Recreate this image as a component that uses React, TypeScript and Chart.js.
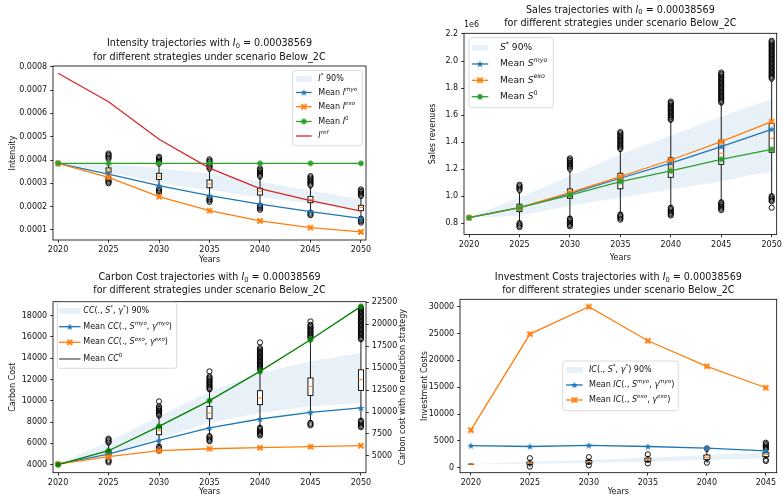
import React, { useEffect, useRef } from 'react';
import { Chart, registerables } from 'chart.js';

Chart.register(...registerables);

const FONT = "'DejaVu Sans', sans-serif";
const PAGE_W = 782;
const PAGE_H = 496;
const BLUE = '#1f77b4';
const ORANGE = '#ff7f0e';
const GREEN = '#2ca02c';
const DKGREEN = '#008000';
const RED = '#d62728';
const GREY = '#5a5a5a';
const BAND = 'rgba(31,119,180,0.1)';

// ---------------- data ----------------
const years = [2020, 2025, 2030, 2035, 2040, 2045, 2050];
const boxYears = [2025, 2030, 2035, 2040, 2045, 2050];
const years4 = [2020, 2025, 2030, 2035, 2040, 2045];

// Intensity
const intensityMyo = [0.000386, 0.000339, 0.00029, 0.000247, 0.000211, 0.000179, 0.00015];
const intensityExo = [0.000386, 0.000326, 0.000243, 0.000183, 0.000139, 0.00011, 0.0000915];
const intensityZero = [0.00038569, 0.00038569, 0.00038569, 0.00038569, 0.00038569, 0.00038569, 0.00038569];
const intensityRef = [0.000772, 0.00065, 0.000489, 0.000365, 0.000277, 0.000226, 0.000181];
const intensityBandLo = [0.000386, 0.00035, 0.0003, 0.000271, 0.00024, 0.000214, 0.000188];
const intensityBandHi = [0.000386, 0.000384, 0.000364, 0.000343, 0.000307, 0.000269, 0.000232];
const intensityOutLo = [0.0003, 0.000257, 0.000217, 0.000186, 0.00016, 0.000129];
const intensityWhLo = [0.000331, 0.000286, 0.000246, 0.000212, 0.000183, 0.000157];
const intensityQ1 = [0.000348, 0.000317, 0.000281, 0.00025, 0.000217, 0.000183];
const intensityMed = [0.000357, 0.000331, 0.000297, 0.000264, 0.00023, 0.000196];
const intensityQ3 = [0.000366, 0.000343, 0.000314, 0.000279, 0.000243, 0.000206];
const intensityWhHi = [0.000393, 0.000374, 0.00035, 0.000317, 0.000279, 0.000236];
const intensityOutHi = [0.000428, 0.000414, 0.000403, 0.000364, 0.000331, 0.000274];
const intensityTicks = [0.0001, 0.0002, 0.0003, 0.0004, 0.0005, 0.0006, 0.0007, 0.0008];

// Sales (in units of 1e6)
const salesMyo = [0.841, 0.915, 1.019, 1.133, 1.244, 1.367, 1.495];
const salesExo = [0.841, 0.915, 1.026, 1.145, 1.268, 1.404, 1.552];
const salesZero = [0.841, 0.915, 1.009, 1.108, 1.187, 1.273, 1.347];
const salesBandLo = [0.841, 0.855, 0.93, 0.99, 1.05, 1.11, 1.185];
const salesBandHi = [0.841, 0.99, 1.15, 1.31, 1.45, 1.59, 1.72];
const salesOutLo = [0.77, 0.77, 0.825, 0.855, 0.89, 0.96];
const salesWhLo = [0.815, 0.85, 0.88, 0.93, 0.97, 1.015];
const salesQ1 = [0.886, 0.985, 1.055, 1.14, 1.236, 1.325];
const salesMed = [0.915, 1.015, 1.11, 1.211, 1.318, 1.429];
const salesQ3 = [0.941, 1.054, 1.17, 1.285, 1.411, 1.54];
const salesWhHi = [1.025, 1.18, 1.33, 1.55, 1.675, 1.85];
const salesOutHi = [1.085, 1.28, 1.475, 1.7, 1.915, 2.15];
const salesFliers = [[2050, 0.915]];
const salesTicks = [0.8, 1.0, 1.2, 1.4, 1.6, 1.8, 2.0, 2.2];

// Carbon cost
const ccMyo = [4060, 5000, 6285, 7450, 8295, 8920, 9330];
const ccExo = [4060, 4750, 5315, 5500, 5600, 5690, 5785];
const ccZero = [4000, 5590, 8365, 11295, 14635, 18250, 22050];
const ccBandLo = [4060, 5000, 6500, 7920, 8860, 9480, 9800];
const ccBandHi = [4060, 6190, 8540, 10890, 12620, 13710, 14500];
const ccOutLo = [4200, 5250, 6190, 6700, 7600, 7500];
const ccWhLo = [4650, 5880, 6880, 7660, 8130, 8320];
const ccQ1 = [4850, 6820, 8320, 9640, 10510, 10980];
const ccMed = [5000, 7200, 8860, 10270, 11360, 11990];
const ccQ3 = [5300, 7600, 9480, 10950, 12150, 12920];
const ccWhHi = [5850, 8390, 10890, 12770, 15740, 15590];
const ccOutHi = [6450, 9480, 12300, 14960, 17150, 18720];
const ccFliers = [[2030, 9950], [2035, 12770], [2040, 15490], [2045, 17460]];
const ccTicks = [4000, 6000, 8000, 10000, 12000, 14000, 16000, 18000];
const ccRightTicks = [5000, 7500, 10000, 12500, 15000, 17500, 20000, 22500];

// Investment costs
const icExo = [7000, 24900, 30000, 23650, 18900, 14900];
const icMyo = [4100, 3950, 4150, 3950, 3650, 3130];
const icBandLo = [630, 690, 930, 1120, 1430, 1750];
const icBandHi = [630, 1120, 1430, 1860, 2370, 2870];
const icOutLo = [null, 200, 450, 800, 930, 1120];
const icWhLo = [630, 350, 600, 1000, 1100, 1860];
const icQ1 = [630, 650, 850, 1200, 1560, 2050];
const icMed = [630, 850, 1100, 1500, 1940, 2500];
const icQ3 = [630, 1050, 1350, 1800, 2370, 2800];
const icWhHi = [630, 1400, 1600, 2100, 3000, 3000];
const icOutHi = [null, 1750, 1950, 2500, 3600, 4660];
const icTicks = [0, 5000, 10000, 15000, 20000, 25000, 30000];

const titleLine2 = 'for different strategies under scenario Below_2C';

// ---------------- rich text ----------------
type Seg = { t: string; it: boolean; lvl: number };
function parseRich(s: string): Seg[] {
  const out: Seg[] = [];
  const parts = s.split('$');
  const isLetter = (c: string) => /[A-Za-z\u03b1-\u03c9]/.test(c);
  parts.forEach((p, idx) => {
    if (idx % 2 === 0) {
      if (p) out.push({ t: p, it: false, lvl: 0 });
      return;
    }
    let i = 0;
    while (i < p.length) {
      const ch = p[i];
      if (ch === '^' || ch === '_') {
        let content = '';
        if (p[i + 1] === '{') {
          const j = p.indexOf('}', i + 2);
          content = p.slice(i + 2, j);
          i = j + 1;
        } else {
          content = p[i + 1];
          i += 2;
        }
        out.push({ t: content, it: isLetter(content), lvl: ch === '^' ? 1 : -1 });
      } else {
        out.push({ t: ch, it: isLetter(ch), lvl: 0 });
        i++;
      }
    }
  });
  return out;
}
function segFont(s: Seg, size: number) {
  const sz = s.lvl === 0 ? size : size * 0.7;
  return `${s.it ? 'italic ' : ''}${sz}px ${FONT}`;
}
function drawRich(ctx: CanvasRenderingContext2D, str: string, x: number, y: number, size: number, align = 'left', color = '#111') {
  const segs = parseRich(str);
  let w = 0;
  for (const s of segs) {
    ctx.font = segFont(s, size);
    w += ctx.measureText(s.t).width;
  }
  let cx = align === 'center' ? x - w / 2 : align === 'right' ? x - w : x;
  ctx.fillStyle = color;
  ctx.textBaseline = 'middle';
  ctx.textAlign = 'left';
  for (const s of segs) {
    ctx.font = segFont(s, size);
    const dy = s.lvl === 1 ? -size * 0.38 : s.lvl === -1 ? size * 0.28 : 0;
    ctx.fillText(s.t, cx, y + dy);
    cx += ctx.measureText(s.t).width;
  }
}

// ---------------- markers ----------------
const markerCache: Record<string, HTMLCanvasElement> = {};
function makeMarker(kind: string, color: string): HTMLCanvasElement {
  const key = kind + '|' + color;
  if (markerCache[key]) return markerCache[key];
  const size = 10;
  const c = document.createElement('canvas');
  c.width = size;
  c.height = size;
  const g = c.getContext('2d')!;
  const m = size / 2;
  g.fillStyle = color;
  g.strokeStyle = color;
  if (kind === 'circle') {
    g.beginPath();
    g.arc(m, m, 2.7, 0, Math.PI * 2);
    g.fill();
  } else if (kind === 'star') {
    g.beginPath();
    for (let k = 0; k < 10; k++) {
      const r = k % 2 === 0 ? 3.7 : 1.5;
      const a = -Math.PI / 2 + (k * Math.PI) / 5;
      g.lineTo(m + r * Math.cos(a), m + 0.3 + r * Math.sin(a));
    }
    g.closePath();
    g.fill();
  } else {
    g.lineWidth = 2.2;
    g.beginPath();
    g.moveTo(m - 2.5, m - 2.5);
    g.lineTo(m + 2.5, m + 2.5);
    g.moveTo(m + 2.5, m - 2.5);
    g.lineTo(m - 2.5, m + 2.5);
    g.stroke();
  }
  markerCache[key] = c;
  return c;
}

// ---------------- specs ----------------
type Area = { l: number; t: number; r: number; b: number };
interface AxisSpec { min: number; max: number; ticks: number[]; fmt: (v: number) => string }
interface LineSpec { xs: number[]; data: number[]; color: string; marker: string | null; axis?: string; order: number }
interface LegendEntry { kind: string; color: string; marker?: string | null; label: string; y: number }
interface LegendSpec { x: number; y: number; w: number; h: number; font: number; hx0: number; hx1: number; tx: number; entries: LegendEntry[] }
interface BoxSpec { pos: number[]; outLo: (number | null)[]; whLo: number[]; q1: number[]; med: number[]; q3: number[]; whHi: number[]; outHi: (number | null)[]; fliers: number[][] }
interface Spec {
  area: Area; x: AxisSpec; y: AxisSpec; y2?: AxisSpec;
  lines: LineSpec[]; band: { xs: number[]; lo: number[]; hi: number[] }; boxes: BoxSpec;
  title: string[]; titleY: number[]; xLabelY: number; yLabel: { text: string; x: number };
  y2Label?: { text: string; x: number }; offsetText?: { text: string; y: number }; legend: LegendSpec;
}

const yearFmt = (v: number) => String(v);
const xFull: AxisSpec = { min: 2019.5, max: 2050.5, ticks: years, fmt: yearFmt };

const specs: Spec[] = [
  {
    area: { l: 53, t: 66, r: 366, b: 240 },
    x: xFull,
    y: { min: 0.0000571, max: 0.000803, ticks: intensityTicks, fmt: (v) => v.toFixed(4) },
    lines: [
      { xs: years, data: intensityMyo, color: BLUE, marker: 'star', order: 4 },
      { xs: years, data: intensityExo, color: ORANGE, marker: 'x', order: 3 },
      { xs: years, data: intensityZero, color: GREEN, marker: 'circle', order: 2 },
      { xs: years, data: intensityRef, color: RED, marker: null, order: 1 },
    ],
    band: { xs: years, lo: intensityBandLo, hi: intensityBandHi },
    boxes: { pos: boxYears, outLo: intensityOutLo, whLo: intensityWhLo, q1: intensityQ1, med: intensityMed, q3: intensityQ3, whHi: intensityWhHi, outHi: intensityOutHi, fliers: [] },
    title: ['Intensity trajectories with $I_0$ = 0.00038569', titleLine2],
    titleY: [43.3, 57.3],
    xLabelY: 259.5,
    yLabel: { text: 'Intensity', x: 12.5 },
    legend: {
      x: 292.7, y: 70.3, w: 69.6, h: 75.4, font: 8, hx0: 296, hx1: 311.7, tx: 318.3,
      entries: [
        { kind: 'band', color: BAND, label: '$I^{*}$ 90%', y: 79 },
        { kind: 'line', color: BLUE, marker: 'star', label: 'Mean $I^{myo}$', y: 92.5 },
        { kind: 'line', color: ORANGE, marker: 'x', label: 'Mean $I^{exo}$', y: 106.7 },
        { kind: 'line', color: GREEN, marker: 'circle', label: 'Mean $I^{0}$', y: 121.5 },
        { kind: 'line', color: RED, marker: null, label: '$I^{ref}$', y: 136 },
      ],
    },
  },
  {
    area: { l: 464, t: 33.3, r: 777.5, b: 234.5 },
    x: xFull,
    y: { min: 0.717, max: 2.205, ticks: salesTicks, fmt: (v) => v.toFixed(1) },
    lines: [
      { xs: years, data: salesMyo, color: BLUE, marker: 'star', order: 3 },
      { xs: years, data: salesExo, color: ORANGE, marker: 'x', order: 2 },
      { xs: years, data: salesZero, color: GREEN, marker: 'circle', order: 1 },
    ],
    band: { xs: years, lo: salesBandLo, hi: salesBandHi },
    boxes: { pos: boxYears, outLo: salesOutLo, whLo: salesWhLo, q1: salesQ1, med: salesMed, q3: salesQ3, whHi: salesWhHi, outHi: salesOutHi, fliers: salesFliers },
    title: ['Sales trajectories with $I_0$ = 0.00038569', titleLine2],
    titleY: [10, 23.3],
    xLabelY: 258.3,
    yLabel: { text: 'Sales revenues', x: 432.7 },
    offsetText: { text: '1e6', y: 25 },
    legend: {
      x: 469, y: 37.7, w: 84.3, h: 70, font: 9.1, hx0: 471.7, hx1: 488.3, tx: 500,
      entries: [
        { kind: 'band', color: BAND, label: '$S^{*}$ 90%', y: 47.7 },
        { kind: 'line', color: BLUE, marker: 'star', label: 'Mean $S^{myo}$', y: 64 },
        { kind: 'line', color: ORANGE, marker: 'x', label: 'Mean $S^{exo}$', y: 80.3 },
        { kind: 'line', color: GREEN, marker: 'circle', label: 'Mean $S^{0}$', y: 96.7 },
      ],
    },
  },
  {
    area: { l: 53, t: 301.7, r: 366, b: 472.7 },
    x: xFull,
    y: { min: 3248, max: 19315, ticks: ccTicks, fmt: yearFmt },
    y2: { min: 3085, max: 22580, ticks: ccRightTicks, fmt: yearFmt },
    lines: [
      { xs: years, data: ccMyo, color: BLUE, marker: 'star', order: 3 },
      { xs: years, data: ccExo, color: ORANGE, marker: 'x', order: 2 },
      { xs: years, data: ccZero, color: DKGREEN, marker: 'circle', axis: 'y2', order: 1 },
    ],
    band: { xs: years, lo: ccBandLo, hi: ccBandHi },
    boxes: { pos: boxYears, outLo: ccOutLo, whLo: ccWhLo, q1: ccQ1, med: ccMed, q3: ccQ3, whHi: ccWhHi, outHi: ccOutHi, fliers: ccFliers },
    title: ['Carbon Cost trajectories with $I_0$ = 0.00038569', titleLine2],
    titleY: [277.3, 290.7],
    xLabelY: 492.3,
    yLabel: { text: 'Carbon Cost', x: 13.3 },
    y2Label: { text: 'Carbon cost with no reduction strategy', x: 402.7 },
    legend: {
      x: 57.3, y: 302.3, w: 119.4, h: 66, font: 8, hx0: 59, hx1: 80.5, tx: 83.3,
      entries: [
        { kind: 'band', color: BAND, label: '$CC(., S^{*}, γ^{*})$ 90%', y: 311 },
        { kind: 'line', color: BLUE, marker: 'star', label: 'Mean $CC(., S^{myo}, γ^{myo})$', y: 326.7 },
        { kind: 'line', color: ORANGE, marker: 'x', label: 'Mean $CC(., S^{exo}, γ^{exo})$', y: 342.3 },
        { kind: 'line', color: GREY, marker: null, label: 'Mean $CC^{0}$', y: 359 },
      ],
    },
  },
  {
    area: { l: 460, t: 299.3, r: 782, b: 472.7 },
    x: { min: 2019.08, max: 2045.92, ticks: years4, fmt: yearFmt },
    y: { min: -930, max: 31380, ticks: icTicks, fmt: yearFmt },
    lines: [
      { xs: years4, data: icMyo, color: BLUE, marker: 'star', order: 2 },
      { xs: years4, data: icExo, color: ORANGE, marker: 'x', order: 1 },
    ],
    band: { xs: years4, lo: icBandLo, hi: icBandHi },
    boxes: { pos: years4, outLo: icOutLo, whLo: icWhLo, q1: icQ1, med: icMed, q3: icQ3, whHi: icWhHi, outHi: icOutHi, fliers: [] },
    title: ['Investment Costs trajectories with $I_0$ = 0.00038569', titleLine2],
    titleY: [277.3, 290.7],
    xLabelY: 492.3,
    yLabel: { text: 'Investment Costs', x: 425 },
    legend: {
      x: 562.7, y: 361, w: 115.6, h: 49.7, font: 8, hx0: 566, hx1: 582.7, tx: 589,
      entries: [
        { kind: 'band', color: BAND, label: '$IC(., S^{*}, γ^{*})$ 90%', y: 370 },
        { kind: 'line', color: BLUE, marker: 'star', label: 'Mean $IC(., S^{myo}, γ^{myo})$', y: 385 },
        { kind: 'line', color: ORANGE, marker: 'x', label: 'Mean $IC(., S^{exo}, γ^{exo})$', y: 400 },
      ],
    },
  },
];

// ---------------- drawing helpers ----------------
function circle(ctx: CanvasRenderingContext2D, x: number, y: number) {
  ctx.beginPath();
  ctx.arc(x, y, 2.6, 0, Math.PI * 2);
  ctx.stroke();
}
function cluster(ctx: CanvasRenderingContext2D, x: number, y1: number, y2: number) {
  const a = Math.min(y1, y2);
  const b = Math.max(y1, y2);
  for (let y = a; y <= b + 0.01; y += 1.3) circle(ctx, x, y);
}
function seg(ctx: CanvasRenderingContext2D, x1: number, y1: number, x2: number, y2: number) {
  ctx.beginPath();
  ctx.moveTo(x1, y1);
  ctx.lineTo(x2, y2);
  ctx.stroke();
}
function drawBoxes(ctx: CanvasRenderingContext2D, xs: any, ys: any, b: BoxSpec) {
  const halfW = 0.25;
  for (let i = 0; i < b.pos.length; i++) {
    const p = b.pos[i];
    const x = xs.getPixelForValue(p);
    const xl = xs.getPixelForValue(p - halfW);
    const xr = xs.getPixelForValue(p + halfW);
    const cl = xs.getPixelForValue(p - halfW / 2);
    const cr = xs.getPixelForValue(p + halfW / 2);
    const py = (v: number) => ys.getPixelForValue(v);
    ctx.strokeStyle = '#000';
    ctx.lineWidth = 0.9;
    seg(ctx, x, py(b.q1[i]), x, py(b.whLo[i]));
    seg(ctx, x, py(b.q3[i]), x, py(b.whHi[i]));
    seg(ctx, cl, py(b.whLo[i]), cr, py(b.whLo[i]));
    seg(ctx, cl, py(b.whHi[i]), cr, py(b.whHi[i]));
    const top = py(b.q3[i]);
    const bot = py(b.q1[i]);
    ctx.fillStyle = '#fff';
    ctx.fillRect(xl, top, xr - xl, bot - top);
    ctx.strokeRect(xl, top, xr - xl, bot - top);
    ctx.strokeStyle = ORANGE;
    ctx.lineWidth = 1;
    seg(ctx, xl, py(b.med[i]), xr, py(b.med[i]));
    ctx.strokeStyle = '#000';
    ctx.lineWidth = 0.9;
    const lo = b.outLo[i];
    const hi = b.outHi[i];
    if (lo !== null && lo !== undefined) cluster(ctx, x, py(lo), py(b.whLo[i]) + 2);
    if (hi !== null && hi !== undefined) cluster(ctx, x, py(hi), py(b.whHi[i]) - 2);
  }
  for (const f of b.fliers) circle(ctx, xs.getPixelForValue(f[0]), ys.getPixelForValue(f[1]));
}
function drawLegend(ctx: CanvasRenderingContext2D, L: LegendSpec) {
  ctx.save();
  ctx.beginPath();
  (ctx as any).roundRect(L.x, L.y, L.w, L.h, 2.5);
  ctx.fillStyle = 'rgba(255,255,255,0.8)';
  ctx.fill();
  ctx.strokeStyle = '#d0d0d0';
  ctx.lineWidth = 0.8;
  ctx.stroke();
  for (const e of L.entries) {
    if (e.kind === 'band') {
      ctx.fillStyle = e.color;
      ctx.fillRect(L.hx0, e.y - 2.9, L.hx1 - L.hx0, 5.8);
    } else {
      ctx.strokeStyle = e.color;
      ctx.lineWidth = 1.3;
      seg(ctx, L.hx0, e.y, L.hx1, e.y);
      if (e.marker) {
        const m = makeMarker(e.marker, e.color);
        ctx.drawImage(m, (L.hx0 + L.hx1) / 2 - m.width / 2, e.y - m.height / 2);
      }
    }
    drawRich(ctx, e.label, L.tx, e.y, L.font, 'left');
  }
  ctx.restore();
}

const YW = 40;
const XH = 20;
const TICK_FONT = { family: FONT, size: 8 };

function axisOptions(a: AxisSpec, kind: string, position: string) {
  return {
    type: 'linear',
    position,
    min: a.min,
    max: a.max,
    afterBuildTicks: (s: any) => {
      s.ticks = a.ticks.map((v) => ({ value: v }));
    },
    afterFit: (s: any) => {
      if (kind === 'x') {
        s.height = XH;
        s.paddingLeft = 0;
        s.paddingRight = 0;
      } else {
        s.width = YW;
        s.paddingTop = 0;
        s.paddingBottom = 0;
      }
    },
    ticks: {
      font: TICK_FONT,
      color: '#111',
      padding: kind === 'x' ? 2.5 : 3,
      autoSkip: false,
      maxRotation: 0,
      minRotation: 0,
      callback: (v: any) => a.fmt(Number(v)),
    },
    grid: { display: true, drawOnChartArea: false, drawTicks: true, tickLength: 2.8, color: '#000', lineWidth: 0.8 },
    border: { display: false },
  };
}

function buildConfig(spec: Spec): any {
  const a = spec.area;
  const datasets = spec.lines.map((l) => ({
    data: l.xs.map((x, i) => ({ x, y: l.data[i] })),
    borderColor: l.color,
    backgroundColor: l.color,
    borderWidth: 1.3,
    pointStyle: l.marker ? makeMarker(l.marker, l.color) : 'circle',
    pointRadius: l.marker ? 3 : 0,
    fill: false,
    tension: 0,
    yAxisID: l.axis || 'y',
    order: l.order,
  }));
  const scales: any = {
    x: axisOptions(spec.x, 'x', 'bottom'),
    y: axisOptions(spec.y, 'y', 'left'),
  };
  if (spec.y2) scales.y2 = axisOptions(spec.y2, 'y', 'right');
  const plugin = {
    id: 'extras',
    beforeDatasetsDraw(chart: any) {
      const ctx: CanvasRenderingContext2D = chart.ctx;
      const xs = chart.scales.x;
      const ys = chart.scales.y;
      const ca = chart.chartArea;
      ctx.save();
      ctx.beginPath();
      ctx.rect(ca.left, ca.top, ca.right - ca.left, ca.bottom - ca.top);
      ctx.clip();
      const bd = spec.band;
      ctx.beginPath();
      bd.xs.forEach((x, i) => {
        const px = xs.getPixelForValue(x);
        const py = ys.getPixelForValue(bd.lo[i]);
        if (i === 0) ctx.moveTo(px, py);
        else ctx.lineTo(px, py);
      });
      for (let i = bd.xs.length - 1; i >= 0; i--) ctx.lineTo(xs.getPixelForValue(bd.xs[i]), ys.getPixelForValue(bd.hi[i]));
      ctx.closePath();
      ctx.fillStyle = BAND;
      ctx.fill();
      ctx.restore();
      ctx.save();
      drawBoxes(ctx, xs, ys, spec.boxes);
      ctx.restore();
    },
    afterDraw(chart: any) {
      const ctx: CanvasRenderingContext2D = chart.ctx;
      const ca = chart.chartArea;
      ctx.save();
      ctx.strokeStyle = '#000';
      ctx.lineWidth = 0.8;
      ctx.strokeRect(ca.left, ca.top, ca.right - ca.left, ca.bottom - ca.top);
      const cx = (ca.left + ca.right) / 2;
      const cy = (ca.top + ca.bottom) / 2;
      drawRich(ctx, spec.title[0], cx, spec.titleY[0], 9.6, 'center');
      drawRich(ctx, spec.title[1], cx, spec.titleY[1], 9.6, 'center');
      drawRich(ctx, 'Years', cx, spec.xLabelY, 8, 'center');
      const labels = [spec.yLabel];
      if (spec.y2Label) labels.push(spec.y2Label);
      for (const lb of labels) {
        ctx.save();
        ctx.translate(lb.x, cy);
        ctx.rotate(-Math.PI / 2);
        drawRich(ctx, lb.text, 0, 0, 8, 'center');
        ctx.restore();
      }
      if (spec.offsetText) drawRich(ctx, spec.offsetText.text, ca.left, spec.offsetText.y, 8, 'left');
      drawLegend(ctx, spec.legend);
      ctx.restore();
    },
  };
  return {
    type: 'line',
    data: { datasets },
    options: {
      responsive: false,
      animation: false,
      events: [],
      layout: {
        padding: {
          left: a.l - YW,
          top: a.t,
          right: PAGE_W - a.r - (spec.y2 ? YW : 0),
          bottom: PAGE_H - a.b - XH,
        },
      },
      plugins: { legend: { display: false }, tooltip: { enabled: false }, title: { display: false } },
      scales,
    },
    plugins: [plugin],
  };
}

function Plot({ spec }: { spec: Spec }) {
  const ref = useRef<HTMLCanvasElement>(null);
  useEffect(() => {
    Chart.defaults.font.family = FONT;
    const chart = new Chart(ref.current as HTMLCanvasElement, buildConfig(spec));
    return () => chart.destroy();
  }, [spec]);
  return <canvas ref={ref} width={PAGE_W} height={PAGE_H} style={{ position: 'absolute', left: 0, top: 0 }} />;
}

export default function App() {
  return (
    <div style={{ position: 'fixed', left: 0, top: 0, width: PAGE_W, height: PAGE_H, background: '#fff', overflow: 'hidden' }}>
      {specs.map((s, i) => (
        <Plot key={i} spec={s} />
      ))}
    </div>
  );
}
